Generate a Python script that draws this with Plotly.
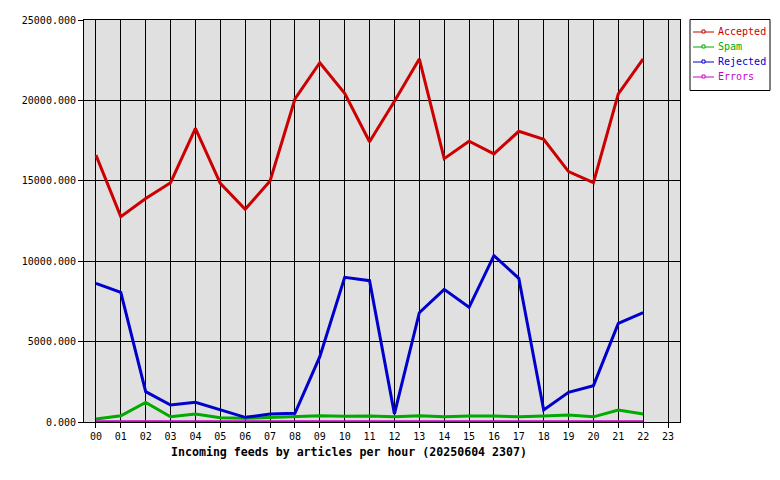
import plotly.graph_objects as go

hours = ["00","01","02","03","04","05","06","07","08","09","10","11",
         "12","13","14","15","16","17","18","19","20","21","22","23"]
accepted = [16600, 12770, 13900, 14880, 18260, 14840, 13230, 14990, 20090, 22340, 20440, 17430,
            19950, 22580, 16380, 17460, 16670, 18080, 17580, 15570, 14880, 20400, 22580]
spam = [190, 390, 1220, 330, 500, 270, 230, 270, 330, 390, 350, 370,
        320, 390, 320, 370, 370, 320, 370, 430, 320, 746, 500]
rejected = [8625, 8066, 1886, 1057, 1223, 746, 290, 497, 539, 4063, 8997, 8789,
            500, 6799, 8250, 7131, 10344, 8935, 746, 1845, 2259, 6136, 6799]
errors = [10, 10, 10, 10, 10, 10, 10, 10, 10, 10, 10, 10,
          10, 10, 10, 10, 10, 10, 10, 10, 10, 10, 10]

series_names = ["Accepted", "Spam", "Rejected", "Errors"]
series_values = [accepted, spam, rejected, errors]
series_colors = ["#cc0000", "#00aa00", "#0000cc", "#cc00cc"]

FONT = "DejaVu Sans Mono"
# page body has an 8px offset; compensate so the visible layout matches
OFF = 8
W, H = 780 - OFF, 480 - OFF
ML, MR, MT, MB = 84 - OFF, 100, 20 - OFF, 58
PW, PH = W - ML - MR, H - MT - MB


def px(x):
    return (x - 84) / PW


def py(y):
    return (422 - y) / PH


fig = go.Figure()
for name, vals, col in zip(series_names, series_values, series_colors):
    fig.add_trace(go.Scatter(x=list(range(len(vals))), y=vals, mode="lines",
                             name=name, line=dict(color=col, width=3),
                             showlegend=False, hoverinfo="skip"))

# hand-drawn legend box (style only)
shapes = [dict(type="rect", xref="paper", yref="paper",
               x0=px(690), x1=px(770), y0=py(19.5), y1=py(90.5),
               line=dict(color="black", width=1), fillcolor="white", layer="above")]
annotations = []
for i, (name, col) in enumerate(zip(series_names, series_colors)):
    yy = 32 + 15 * i
    shapes.append(dict(type="line", xref="paper", yref="paper",
                       x0=px(693), x1=px(714), y0=py(yy), y1=py(yy),
                       line=dict(color=col, width=1), layer="above"))
    shapes.append(dict(type="rect", xref="paper", yref="paper",
                       x0=px(702), x1=px(705), y0=py(yy + 1), y1=py(yy - 2),
                       line=dict(color=col, width=1), fillcolor="white", layer="above"))
    annotations.append(dict(text=name, xref="paper", yref="paper",
                            x=px(716), y=py(yy), xanchor="left", yanchor="middle",
                            showarrow=False,
                            font=dict(family=FONT, size=10, color=col)))

annotations.append(dict(text="<b>Incoming feeds by articles per hour (20250604 2307)</b>",
                        xref="paper", yref="paper", x=px(348.5), y=py(452),
                        xanchor="center", yanchor="middle", showarrow=False,
                        font=dict(family=FONT, size=11.6, color="black")))

fig.update_layout(
    width=W, height=H,
    margin=dict(l=ML, r=MR, t=MT, b=MB, autoexpand=False),
    paper_bgcolor="white", plot_bgcolor="#e0e0e0",
    font=dict(family=FONT, size=10, color="black"),
    showlegend=False,
    xaxis=dict(range=[-0.48, 23.48], tickmode="array",
               tickvals=list(range(len(hours))), ticktext=hours,
               showgrid=True, gridcolor="black", gridwidth=1,
               ticks="outside", ticklen=5, tickcolor="black",
               showline=True, linecolor="black", linewidth=1, mirror=True,
               zeroline=False, fixedrange=True, automargin=False),
    yaxis=dict(range=[0, 25000], tickmode="array",
               tickvals=[0, 5000, 10000, 15000, 20000, 25000],
               tickformat=".3f",
               showgrid=True, gridcolor="black", gridwidth=1,
               ticks="outside", ticklen=5, tickcolor="black",
               showline=True, linecolor="black", linewidth=1, mirror=True,
               zeroline=False, fixedrange=True, automargin=False),
    shapes=shapes,
    annotations=annotations,
)
fig.write_html("out.html")
